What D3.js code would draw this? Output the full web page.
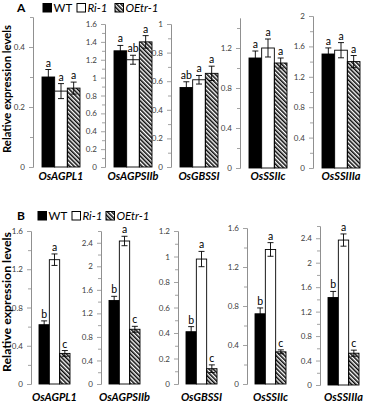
<!DOCTYPE html>
<html>
<head>
<meta charset="utf-8">
<script src="https://cdn.jsdelivr.net/npm/d3@7"></script>
<style>
  body { margin: 0; background: #fff; }
  text { font-family: Lato, "Liberation Sans", sans-serif; }
  .tick text { fill: #404040; font-size: 8px; }
  .axis path, .axis line { stroke: #8c8c8c; stroke-width: 0.8; }
</style>
</head>
<body>
<div id="chart"></div>
<script>
(function(){
var genes = ["OsAGPL1", "OsAGPSIIb", "OsGBSSI", "OsSSIIc", "OsSSIIIa"];
var lines = ["WT", "Ri-1", "OEtr-1"];

// panel A
var aWT   = [0.300, 1.30, 0.556, 1.10, 1.50];
var aRi   = [0.253, 1.20, 0.610, 1.20, 1.55];
var aOE   = [0.263, 1.40, 0.655, 1.05, 1.40];
var aWTse = [0.025, 0.06, 0.040, 0.07, 0.08];
var aRiSe = [0.025, 0.05, 0.030, 0.09, 0.10];
var aOEse = [0.020, 0.07, 0.050, 0.05, 0.08];
var aLetters = [["a","a","a"], ["a","ab","a"], ["ab","a","a"], ["a","a","a"], ["a","a","a"]];
var aMax   = [0.5, 1.6, 1, 1.5, 2];
var aMajor = [0.2, 0.2, 0.2, 0.4, 0.4];

// panel B
var bWT   = [0.62, 1.42, 0.41, 0.72, 1.43];
var bRi   = [1.30, 2.43, 0.98, 1.38, 2.37];
var bOE   = [0.32, 0.93, 0.12, 0.33, 0.52];
var bWTse = [0.04, 0.07, 0.04, 0.06, 0.10];
var bRiSe = [0.06, 0.08, 0.06, 0.07, 0.10];
var bOEse = [0.03, 0.05, 0.03, 0.02, 0.05];
var bLetters = [["b","a","c"], ["b","a","c"], ["b","a","c"], ["b","a","c"], ["b","a","c"]];
var bMax   = [1.6, 2.6, 1.2, 1.6, 2.6];
var bMajor = [0.4, 0.4, 0.2, 0.4, 0.4];

var width = 368, height = 409;

var svg = d3.select("#chart")
  .append("svg")
  .attr("width", width)
  .attr("height", height);

svg.append("rect").attr("width", width).attr("height", height).attr("fill", "#fff");

var defs = svg.append("defs");
defs.append("pattern")
  .attr("id", "hatch")
  .attr("patternUnits", "userSpaceOnUse")
  .attr("width", 3).attr("height", 3)
  .attr("patternTransform", "rotate(-45)")
  .append("line")
  .attr("x1", 0.8).attr("y1", 0).attr("x2", 0.8).attr("y2", 3)
  .attr("stroke", "#000").attr("stroke-width", 1.5);

var fills = ["#000", "#fff", "url(#hatch)"];

function fmt(v){ return String(+v.toFixed(1)); }

function drawPanel(opt){
  var g = svg.append("g");

  // panel letter + legend
  g.append("text").attr("x", opt.letterX).attr("y", opt.legendY)
    .attr("font-size", 12).attr("font-weight", "bold").text(opt.name);
  var leg = g.selectAll(".leg").data(lines).enter().append("g")
    .attr("transform", function(d, i){ return "translate(" + opt.legendX[i] + "," + opt.legendY + ")"; });
  leg.append("rect")
    .attr("x", 0).attr("y", -8.5).attr("width", 8.5).attr("height", 8.5)
    .attr("fill", function(d, i){ return fills[i]; })
    .attr("stroke", "#000").attr("stroke-width", 1);
  leg.append("text")
    .attr("x", 10.5).attr("y", 0)
    .attr("font-size", 11.5)
    .attr("font-style", function(d, i){ return i ? "italic" : "normal"; })
    .text(function(d){ return d; });

  // y title
  g.append("text")
    .attr("transform", "translate(" + 11 + "," + opt.titleY + ") rotate(-90)")
    .attr("text-anchor", "middle")
    .attr("font-size", 11).attr("font-weight", "bold")
    .attr("textLength", opt.titleLen).attr("lengthAdjust", "spacingAndGlyphs")
    .text("Relative expression levels");

  genes.forEach(function(gene, k){
    var ax = opt.axisX[k];
    var y = d3.scaleLinear().domain([0, opt.max[k]]).range([opt.y0[k], opt.yTop[k]]);
    var x = d3.scaleBand().domain(lines)
      .range([ax + opt.barOff, ax + opt.barOff + opt.groupW]).padding(0);

    var step = opt.major[k];
    var major = d3.range(0, Math.floor(opt.max[k] / step + 1e-6) + 1).map(function(i){ return +(i * step).toFixed(2); });
    var minor = d3.range(0, Math.floor(opt.max[k] / (step / 2) + 1e-6) + 1)
      .map(function(i){ return +(i * step / 2).toFixed(2); })
      .filter(function(v){ return major.indexOf(v) < 0; });

    var cg = g.append("g");

    cg.append("g").attr("class", "axis")
      .attr("transform", "translate(" + ax + ",0)")
      .call(d3.axisLeft(y).tickValues(minor).tickFormat("").tickSize(3).tickSizeOuter(0));
    cg.append("g").attr("class", "axis")
      .attr("transform", "translate(" + ax + ",0)")
      .call(d3.axisLeft(y).tickValues(major).tickFormat(fmt).tickSize(4).tickSizeOuter(0).tickPadding(4));

    var rows = lines.map(function(s, i){
      return { s: s, i: i, v: opt.vals[i][k], e: opt.errs[i][k], l: opt.letters[k][i] };
    });

    cg.selectAll(".bar").data(rows).enter().append("rect")
      .attr("x", function(d){ return x(d.s); })
      .attr("y", function(d){ return y(d.v); })
      .attr("width", x.bandwidth())
      .attr("height", function(d){ return y(0) - y(d.v); })
      .attr("fill", function(d){ return fills[d.i]; })
      .attr("stroke", "#000").attr("stroke-width", 0.9);

    var eb = cg.selectAll(".err").data(rows).enter().append("g");
    eb.append("line")
      .attr("x1", function(d){ return x(d.s) + x.bandwidth() / 2; })
      .attr("x2", function(d){ return x(d.s) + x.bandwidth() / 2; })
      .attr("y1", function(d){ return y(d.v - d.e); })
      .attr("y2", function(d){ return y(d.v + d.e); })
      .attr("stroke", "#000").attr("stroke-width", 0.9);
    [-1, 1].forEach(function(sg){
      eb.append("line")
        .attr("x1", function(d){ return x(d.s) + x.bandwidth() / 2 - 3; })
        .attr("x2", function(d){ return x(d.s) + x.bandwidth() / 2 + 3; })
        .attr("y1", function(d){ return y(d.v + sg * d.e); })
        .attr("y2", function(d){ return y(d.v + sg * d.e); })
        .attr("stroke", "#000").attr("stroke-width", 0.9);
    });
    eb.append("text")
      .attr("x", function(d){ return x(d.s) + x.bandwidth() / 2; })
      .attr("y", function(d){ return y(d.v + d.e) - 3; })
      .attr("text-anchor", "middle")
      .attr("font-size", 10.5)
      .text(function(d){ return d.l; });

    cg.append("text")
      .attr("x", ax + opt.barOff + opt.groupW / 2)
      .attr("y", opt.labelY)
      .attr("text-anchor", "middle")
      .attr("font-size", 11).attr("font-weight", "bold").attr("font-style", "italic")
      .text(gene);
  });
}

drawPanel({
  name: "A", letterX: 17, legendY: 12, legendX: [43, 77, 115],
  titleY: 89, titleLen: 128,
  axisX: [33, 105, 171, 240, 313],
  y0: [167, 167, 167, 168, 168], yTop: [17, 24, 24, 18, 16],
  barOff: 9, groupW: 38, labelY: 180,
  max: aMax, major: aMajor,
  vals: [aWT, aRi, aOE], errs: [aWTse, aRiSe, aOEse], letters: aLetters
});

drawPanel({
  name: "B", letterX: 17, legendY: 220, legendX: [38, 72, 106],
  titleY: 302, titleLen: 140,
  axisX: [31, 101, 178, 247, 320],
  y0: [384, 384, 384, 384, 385], yTop: [231, 231, 231, 228, 226],
  barOff: 8, groupW: 31, labelY: 401,
  max: bMax, major: bMajor,
  vals: [bWT, bRi, bOE], errs: [bWTse, bRiSe, bOEse], letters: bLetters
});
})();
</script>
</body>
</html>
